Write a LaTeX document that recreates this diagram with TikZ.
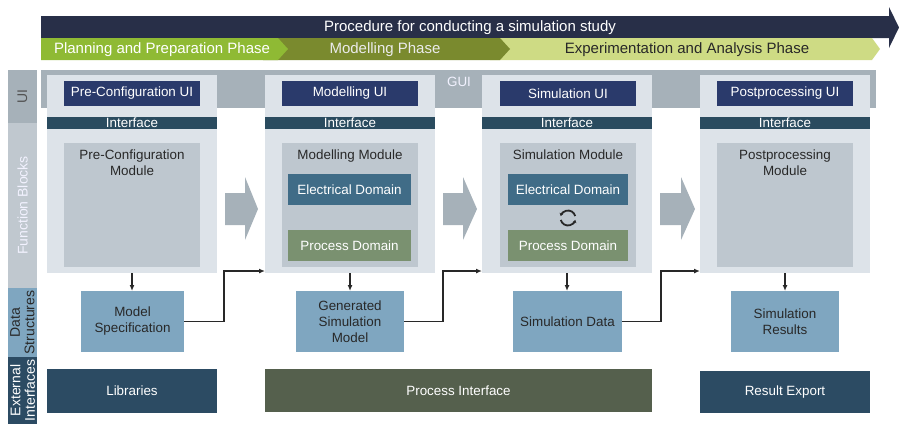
\documentclass[tikz,border=0pt]{standalone}
\usepackage{fontspec}
\setmainfont{Liberation Sans}
\usetikzlibrary{arrows.meta}
\definecolor{topdark}{RGB}{40,47,72}
\definecolor{planc}{RGB}{143,186,52}
\definecolor{modc}{RGB}{122,138,46}
\definecolor{expc}{RGB}{206,219,132}
\definecolor{guic}{RGB}{166,177,185}
\definecolor{panelc}{RGB}{221,227,233}
\definecolor{modulec}{RGB}{190,199,207}
\definecolor{uic}{RGB}{42,58,107}
\definecolor{ifc}{RGB}{42,75,95}
\definecolor{elc}{RGB}{64,108,135}
\definecolor{prc}{RGB}{122,145,112}
\definecolor{dsc}{RGB}{127,166,192}
\definecolor{extc}{RGB}{44,75,99}
\definecolor{pic}{RGB}{85,96,77}
\definecolor{fbc}{RGB}{192,200,207}
\definecolor{txtc}{RGB}{40,40,40}
\begin{document}
\begin{tikzpicture}[x=1pt,y=-1pt,
  font=\fontsize{13.4}{15}\selectfont,
  box/.style={anchor=north west, inner sep=0pt, outer sep=0pt, align=center},
  panel/.style={box, fill=panelc, minimum width=170pt, minimum height=198pt},
  uibox/.style={box, fill=uic, text=white, minimum width=136pt, minimum height=25pt},
  ifbar/.style={box, fill=ifc, text=white, minimum width=170pt, minimum height=12pt},
  module/.style={box, fill=modulec, minimum width=136pt, minimum height=124pt},
  modtext/.style={anchor=north, inner sep=0pt, align=center, text=txtc, font=\fontsize{13.4}{16}\selectfont},
  elbox/.style={box, fill=elc, text=white, minimum height=31pt},
  prbox/.style={box, fill=prc, text=white, minimum height=31pt},
  dsbox/.style={box, fill=dsc, text=txtc, minimum height=61pt, font=\fontsize{13.4}{16}\selectfont},
  extbox/.style={box, text=white},
  side/.style={box, minimum width=29pt},
  sidetext/.style={rotate=90, align=center, inner sep=0pt, font=\fontsize{14}{14.5}\selectfont},
  bigarrow/.style={fill=guic},
  conn/.style={draw=txtc, line width=1.4pt, -{Latex[length=6pt,width=5pt]}}
]
\useasboundingbox (0,0) rectangle (899,424);

% top arrow
\fill[topdark] (41,16) -- (889,16) -- (889,7) -- (899,27.5) -- (889,48) -- (889,38) -- (41,38) -- cycle;
\node[text=white, font=\fontsize{15}{17}\selectfont] (title) at (470,28) {Procedure for conducting a simulation study};

% phases
\fill[expc] (490,38) -- (872,38) -- (880,49) -- (872,60) -- (490,60) -- cycle;
\fill[modc] (263,38) -- (500,38) -- (510,49) -- (500,60) -- (263,60) -- cycle;
\fill[planc] (41,38) -- (278,38) -- (288,49) -- (278,60) -- (41,60) -- cycle;
\node[text=white, font=\fontsize{15}{17}\selectfont] (ph1) at (162,49.5) {Planning and Preparation Phase};
\node[text=white!92!black, font=\fontsize{15}{17}\selectfont] (ph2) at (385,49.5) {Modelling Phase};
\node[text=txtc, font=\fontsize{15}{17}\selectfont] (ph3) at (687,49.5) {Experimentation and Analysis Phase};

% side strip
\node[side, fill=guic, minimum height=53pt] (sui) at (8,70) {};
\node[sidetext, text=txtc!80] (tui) at (sui.center) {UI};
\node[side, fill=fbc, minimum height=165pt] (sfb) at (8,123) {};
\node[sidetext, text=white!95!blue] (tfb) at (sfb.center) {Function Blocks};
\node[side, fill=dsc, minimum height=69pt] (sds) at (8,288) {};
\node[sidetext, text=txtc] (tds) at (sds.center) {Data\\Structures};
\node[side, fill=extc, minimum height=67pt] (sei) at (8,357) {};
\node[sidetext, text=white] (tei) at (sei.center) {External\\Interfaces};

% GUI band
\node[box, fill=guic, minimum width=835pt, minimum height=38pt] (gui) at (41,70) {};
\node[text=white!95!blue, inner sep=0pt] (guit) at (459,82) {GUI};

% panels
\node[panel] (p1) at (47,75) {};
\node[panel] (p2) at (265,75) {};
\node[panel] (p3) at (482,75) {};
\node[panel] (p4) at (700,75) {};

% UI boxes
\node[uibox] (ui1) at (64,81) {Pre-Configuration UI};
\node[uibox] (ui2) at (282,81) {Modelling UI};
\node[uibox] (ui3) at (500,81) {Simulation UI};
\node[uibox] (ui4) at (717,81) {Postprocessing UI};

% interface bars
\node[ifbar] (if1) at (47,117) {Interface};
\node[ifbar] (if2) at (265,117) {Interface};
\node[ifbar] (if3) at (482,117) {Interface};
\node[ifbar] (if4) at (700,117) {Interface};

% modules
\node[module] (m1) at (64,143) {};
\node[module] (m2) at (282,143) {};
\node[module] (m3) at (500,143) {};
\node[module] (m4) at (717,143) {};
\node[modtext] (mt1) at (132,150) {Pre-Configuration\\Module};
\node[modtext] (mt2) at (350,150) {Modelling Module};
\node[modtext] (mt3) at (568,150) {Simulation Module};
\node[modtext] (mt4) at (785,150) {Postprocessing\\Module};

% domains
\node[elbox, minimum width=123pt] (el2) at (288,174) {Electrical Domain};
\node[prbox, minimum width=123pt] (pr2) at (288,230) {Process Domain};
\node[elbox, minimum width=120pt] (el3) at (508,174) {Electrical Domain};
\node[prbox, minimum width=120pt] (pr3) at (508,230) {Process Domain};

% cycle symbol
\coordinate (cyc) at (568,218);
\draw[line width=1.8pt, txtc, -{Stealth[length=3pt,width=4pt]}] (cyc) ++(165:7.5) arc[start angle=165, end angle=15, radius=7.5];
\draw[line width=1.8pt, txtc, -{Stealth[length=3pt,width=4pt]}] (cyc) ++(345:7.5) arc[start angle=345, end angle=195, radius=7.5];

% big arrows
\fill[bigarrow] (225,193) -- (245,193) -- (245,177) -- (258,209) -- (245,240) -- (245,225) -- (225,225) -- cycle;
\fill[bigarrow] (443,193) -- (463,193) -- (463,177) -- (477,209) -- (463,240) -- (463,225) -- (443,225) -- cycle;
\fill[bigarrow] (660,193) -- (681,193) -- (681,177) -- (695,209) -- (681,240) -- (681,225) -- (660,225) -- cycle;

% data structures
\node[dsbox, minimum width=103pt] (ms) at (81,291) {Model\\Specification};
\node[dsbox, minimum width=108pt] (gsm) at (296,291) {Generated\\Simulation\\Model};
\node[dsbox, minimum width=109pt] (sd) at (513,291) {Simulation Data};
\node[dsbox, minimum width=108pt] (sr) at (731,291) {Simulation\\Results};

% external interfaces
\node[extbox, fill=extc, minimum width=170pt, minimum height=44pt] (lib) at (47,369) {Libraries};
\node[extbox, fill=pic, minimum width=387pt, minimum height=43pt] (pi) at (265,369) {Process Interface};
\node[extbox, fill=extc, minimum width=170pt, minimum height=42pt] (re) at (700,371) {Result Export};

% connectors
\draw[conn] (p1.south) -- (p1.south |- ms.north);
\draw[conn] (p2.south) -- (p2.south |- gsm.north);
\draw[conn] (p3.south) -- (p3.south |- sd.north);
\draw[conn] (p4.south) -- (p4.south |- sr.north);
\draw[conn] (ms.east) -- ++(40,0) |- ([yshift=2pt]p2.south west);
\draw[conn] (gsm.east) -- ++(39,0) |- ([yshift=2pt]p3.south west);
\draw[conn] (sd.east) -- ++(39,0) |- ([yshift=2pt]p4.south west);
\end{tikzpicture}
\end{document}
